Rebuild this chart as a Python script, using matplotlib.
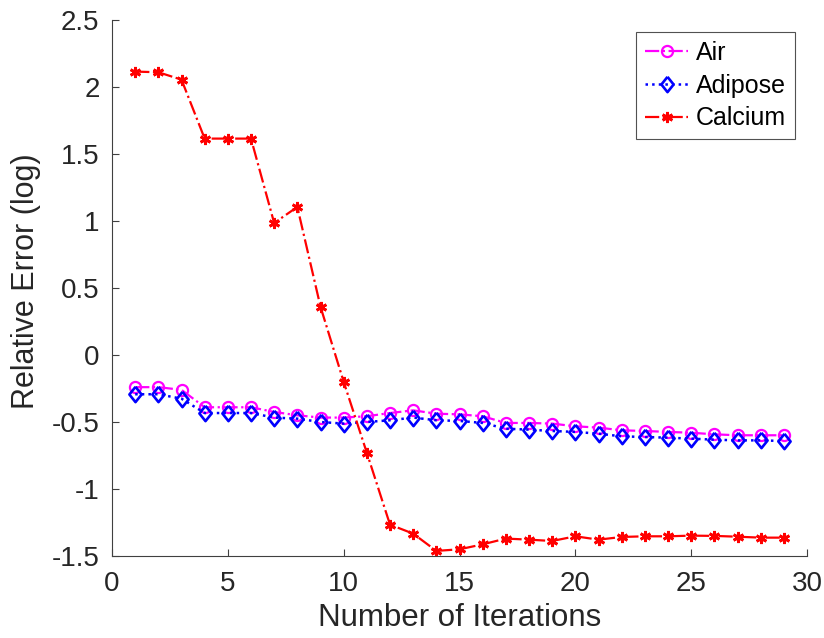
import matplotlib
matplotlib.use("Agg")
import matplotlib.pyplot as plt

iterations = list(range(1, 30))
air = [-0.24, -0.24, -0.26, -0.39, -0.39, -0.39, -0.425, -0.45, -0.467, -0.467,
       -0.457, -0.433, -0.413, -0.438, -0.443, -0.457, -0.507, -0.507, -0.512, -0.532,
       -0.542, -0.562, -0.567, -0.574, -0.58, -0.592, -0.599, -0.599, -0.599]
adipose = [-0.293, -0.293, -0.326, -0.433, -0.433, -0.433, -0.467, -0.475, -0.5, -0.512,
           -0.5, -0.487, -0.467, -0.487, -0.492, -0.507, -0.55, -0.557, -0.567, -0.574,
           -0.587, -0.607, -0.612, -0.617, -0.624, -0.632, -0.637, -0.637, -0.642]
calcium = [2.115, 2.11, 2.055, 1.615, 1.615, 1.615, 0.985, 1.105, 0.36, -0.20,
           -0.73, -1.266, -1.333, -1.462, -1.45, -1.413, -1.37, -1.378, -1.388, -1.353,
           -1.378, -1.358, -1.353, -1.353, -1.348, -1.35, -1.356, -1.363, -1.363]

plt.rcParams['font.family'] = ['Liberation Sans', 'DejaVu Sans']

fig = plt.figure(figsize=(8.24, 6.38), dpi=100)
ax = fig.add_axes([112/824, 1 - 556/638, (807-112)/824, (556-20)/638])

diamond = [(0, 1), (0.8, 0), (0, -1), (-0.8, 0), (0, 1)]

ax.plot(iterations, air, linestyle='-.', color='magenta', marker='o', markersize=8,
        markerfacecolor='none', markeredgewidth=1.6, linewidth=1.6, label='Air')
ax.plot(iterations, adipose, linestyle=':', color='blue', marker=diamond, markersize=11,
        markerfacecolor='none', markeredgewidth=1.9, linewidth=1.8, label='Adipose')
ax.plot(iterations, calcium, linestyle='-.', color='red', marker=(6, 2, 0), markersize=8,
        markeredgewidth=2.0, linewidth=1.6, label='Calcium')

ax.set_xlim(0, 30)
ax.set_ylim(-1.5, 2.5)
ax.set_xticks([0, 5, 10, 15, 20, 25, 30])
ax.set_yticks([-1.5, -1, -0.5, 0, 0.5, 1, 1.5, 2, 2.5])
ax.set_yticklabels(['-1.5', '-1', '-0.5', '0', '0.5', '1', '1.5', '2', '2.5'])
ax.spines['top'].set_visible(False)
ax.spines['right'].set_visible(False)
for s in ['left', 'bottom']:
    ax.spines[s].set_color('#404040')
    ax.spines[s].set_linewidth(0.8)
ax.tick_params(direction='in', length=5, width=0.8, colors='#404040', labelsize=20,
               labelcolor='#262626')
ax.tick_params(axis='x', pad=11)
ax.tick_params(axis='y', pad=9)
ax.set_xlabel('Number of Iterations', fontsize=22.5, color='#262626', labelpad=4)
ax.set_ylabel('Relative Error (log)', fontsize=22, color='#262626')
ax.yaxis.set_label_coords(-0.102, 0.513)

leg = ax.legend(loc='upper right', fontsize=18, frameon=True, fancybox=False,
                edgecolor='#262626', handlelength=1.75, borderpad=0.35,
                labelspacing=0.35, handletextpad=0.31, borderaxespad=0,
                bbox_to_anchor=(795/824, 1 - 32/638), bbox_transform=fig.transFigure)
leg.get_frame().set_linewidth(0.8)

fig.savefig('out.png', dpi=100)
